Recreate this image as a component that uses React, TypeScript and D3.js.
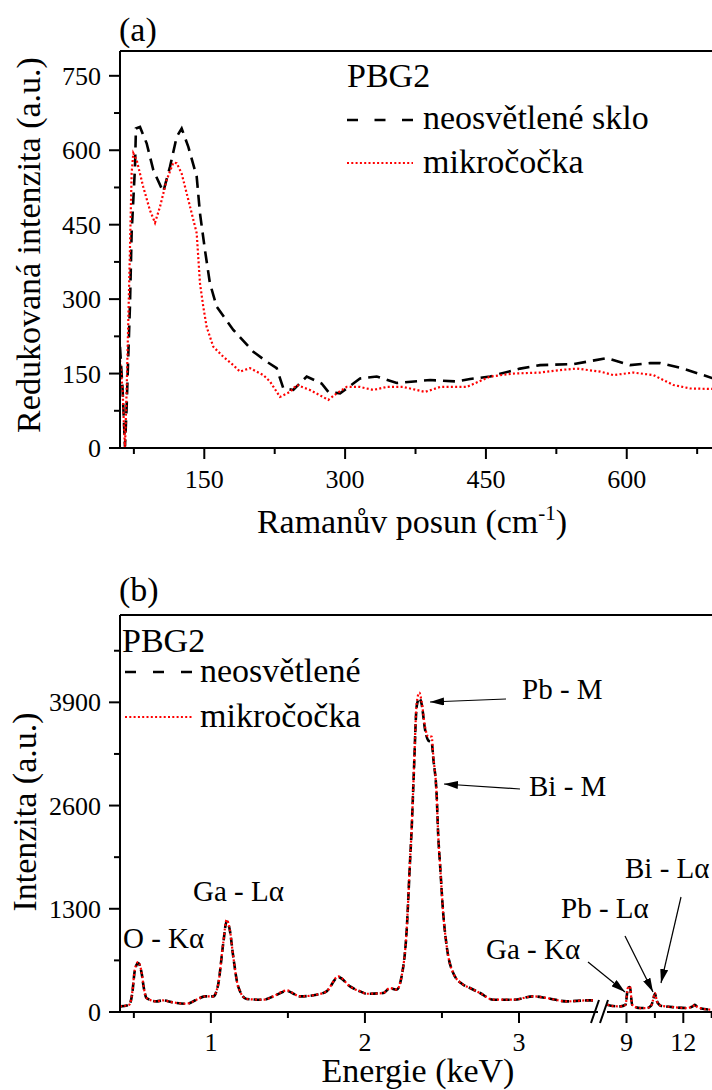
import React from 'react';
import * as d3 from 'd3';

// ---------- Panel (a): Raman ----------
const ramanShiftBlack = [60.2, 63, 65.5, 67.3, 69, 70.8, 72.6, 76.2, 77.2, 81.5, 88.6, 95.7, 106.3, 113.5, 120.6, 125.9, 133, 141.9, 145.4, 150.7, 156, 163.2, 180.9, 202.2, 216.5, 227.1, 234.2, 244.8, 259.1, 275, 282.1, 294.6, 308.7, 315.9, 333.7, 355, 390.5, 418.9, 433.1, 454.4, 486.4, 507.7, 543.1, 578.7, 603.5, 625, 635.7, 660.3, 690.8, 720];
const ramanUnexposed = [204, 117, 3, 83, 184, 285, 433, 567, 644, 647, 614, 560, 516, 567, 627, 644, 607, 547, 473, 399, 332, 285, 238, 194, 174, 161, 120, 117, 144, 130, 113, 110, 130, 140, 144, 131, 137, 134, 139, 144, 160, 167, 169, 181, 167, 171, 171, 160, 141, 134, 133];
const ramanShiftRed = [60.2, 63, 64.2, 65.5, 67.3, 69, 70.8, 72.6, 74.4, 78, 85, 92.1, 97.5, 102.8, 109.9, 117, 120.6, 125.9, 133, 141.9, 145.4, 148.9, 152.5, 159.6, 170.2, 180.9, 188, 198.7, 212.8, 220, 230.6, 241.3, 248.4, 262.5, 282.1, 291, 301.7, 315.9, 330, 344.3, 362, 385.1, 401.3, 429.5, 454.4, 479.2, 507.7, 529, 546.7, 571.6, 585.7, 607, 628.3, 649.6, 667.3, 690.8, 720];
const ramanLens = [177, 117, 56, 0, 117, 252, 399, 554, 594, 580, 526, 479, 454, 486, 540, 575, 574, 553, 500, 433, 332, 285, 244, 204, 184, 167, 154, 161, 147, 134, 103, 113, 127, 117, 97, 110, 123, 123, 117, 123, 123, 113, 123, 123, 144, 150, 152, 157, 160, 154, 147, 152, 147, 127, 120, 119, 119];
const ramanXTicks = [150, 300, 450, 600];
const ramanXMinor = [75, 225, 375, 525, 675];
const ramanYTicks = [0, 150, 300, 450, 600, 750];
const ramanYMinor = [75, 225, 375, 525, 675];

// ---------- Panel (b): EDS ----------
const edsEnergyLow = [0.41, 0.47, 0.49, 0.506, 0.528, 0.55, 0.565, 0.582, 0.647, 0.688, 0.753, 0.842, 0.907, 0.961, 1.015, 1.047, 1.08, 1.102, 1.123, 1.145, 1.177, 1.232, 1.34, 1.405, 1.492, 1.578, 1.686, 1.751, 1.827, 1.903, 1.968, 2.011, 2.119, 2.162, 2.206, 2.238, 2.271, 2.292, 2.303, 2.318, 2.336, 2.353, 2.368, 2.39, 2.411, 2.433, 2.444, 2.466, 2.476, 2.487, 2.508, 2.531, 2.573, 2.638, 2.682, 2.747, 2.833, 2.963, 3.093, 3.18, 3.31, 3.44, 3.494];
const edsLensLow = [71, 92, 250, 532, 630, 500, 300, 176, 134, 146, 121, 104, 155, 197, 197, 344, 868, 1162, 1036, 700, 322, 164, 155, 197, 272, 197, 218, 260, 448, 322, 260, 230, 239, 302, 281, 448, 1036, 1879, 2297, 3050, 3889, 4022, 3909, 3594, 3468, 3468, 3217, 2714, 2210, 1879, 1246, 826, 491, 344, 302, 239, 155, 155, 197, 176, 134, 146, 146];
const edsUnexposedLow = [71, 92, 240, 520, 615, 495, 300, 176, 134, 146, 121, 104, 155, 197, 197, 344, 860, 1140, 1030, 700, 322, 164, 155, 197, 265, 197, 218, 260, 440, 322, 260, 230, 239, 300, 281, 448, 1030, 1870, 2290, 3040, 3850, 3950, 3880, 3560, 3420, 3400, 3190, 2714, 2210, 1879, 1246, 826, 491, 344, 302, 239, 155, 155, 197, 176, 134, 146, 146];
const edsEnergyHigh = [7.99, 8.3, 8.69, 8.95, 9.07, 9.18, 9.3, 9.5, 9.73, 10.08, 10.3, 10.4, 10.5, 10.61, 10.8, 11.04, 11.5, 12.18, 12.5, 12.61, 12.75, 12.87, 13.5, 14.5];
const edsLensHigh = [92, 75, 71, 92, 302, 322, 92, 60, 50, 50, 80, 150, 239, 134, 80, 71, 60, 50, 70, 92, 60, 50, 29, 25];
const edsUnexposedHigh = [92, 75, 71, 92, 295, 315, 92, 60, 50, 50, 80, 145, 230, 134, 80, 71, 60, 50, 70, 90, 60, 50, 29, 25];
const edsXTicksLow = [1, 2, 3];
const edsXMinorLow = [0.5, 1.5, 2.5];
const edsXTicksHigh = [9, 12];
const edsXMinorHigh = [10.5, 13.5];
const edsYTicks = [0, 1300, 2600, 3900];
const edsYMinor = [650, 1950, 3250, 4550];

const FF = 'Times New Roman, Liberation Serif, Tinos, serif';

export default function App() {
  // Panel (a) geometry
  const aL = 120, aT = 51, aB = 448, aR = 740;
  const xA = d3.scaleLinear().domain([60, 720]).range([119.8, 739.4]);
  const yA = d3.scaleLinear().domain([0, 800]).range([aB, aT]);
  const lineA = (xs: number[], ys: number[]) =>
    d3.line<number>().x((_, i) => xA(xs[i])).y((d) => yA(d)).curve(d3.curveLinear)(ys) || '';

  // Panel (b) geometry
  const bL = 120, bT = 615, bB = 1012;
  const xB1 = d3.scaleLinear().domain([0.41, 3.5]).range([120, 596]);
  const xB2 = d3.scaleLinear().domain([7.97, 15]).range([607, 740.1]);
  const yB = d3.scaleLinear().domain([0, 5000]).range([bB, bT]);
  const lineB = (sx: d3.ScaleLinear<number, number>, xs: number[], ys: number[]) =>
    d3.line<number>().x((_, i) => sx(xs[i])).y((d) => yB(d)).curve(d3.curveMonotoneX)(ys) || '';

  const ax = { stroke: '#000', strokeWidth: 2 };
  const redDot = { fill: 'none', stroke: '#ff0000', strokeWidth: 2.2, strokeDasharray: '2,2.3' };
  const T26 = { fontFamily: FF, fontSize: 26 };
  const T34 = { fontFamily: FF, fontSize: 34 };
  const T29 = { fontFamily: FF, fontSize: 29 };

  return (
    <svg width={712} height={1090} fontFamily={FF} style={{ position: 'absolute', left: 0, top: 0 }}>
      <defs>
        <clipPath id="clipA"><rect x={aL} y={aT} width={aR - aL} height={aB - aT} /></clipPath>
        <clipPath id="clipB1"><rect x={bL} y={bT} width={596 - bL} height={bB - bT} /></clipPath>
        <clipPath id="clipB2"><rect x={607} y={bT} width={140} height={bB - bT} /></clipPath>
        <marker id="arrow" viewBox="0 0 14 8" refX={14} refY={4} markerWidth={14} markerHeight={8} markerUnits="userSpaceOnUse" orient="auto">
          <path d="M0,0 L14,4 L0,8 Z" fill="#000" />
        </marker>
      </defs>
      <rect x={0} y={0} width={712} height={1090} fill="#fff" />

      {/* ===== Panel (a) ===== */}
      <text x={119} y={41} {...T34}>(a)</text>
      <g clipPath="url(#clipA)">
        <path d={lineA(ramanShiftBlack, ramanUnexposed)} fill="none" stroke="#000" strokeWidth={2.6} strokeDasharray="12,7" />
        <path d={lineA(ramanShiftRed, ramanLens)} {...redDot} />
      </g>
      <line x1={aL} y1={aT} x2={aR} y2={aT} {...ax} />
      <line x1={aL} y1={aT} x2={aL} y2={aB + 1} {...ax} />
      <line x1={aL - 1} y1={aB} x2={aR} y2={aB} {...ax} />
      {ramanYTicks.map((t) => (
        <g key={'ya' + t}>
          <line x1={aL - 11} x2={aL} y1={yA(t)} y2={yA(t)} {...ax} />
          <text x={101} y={yA(t) + 9} textAnchor="end" {...T26}>{String(t)}</text>
        </g>
      ))}
      {ramanYMinor.map((t) => (
        <line key={'yam' + t} x1={aL - 6} x2={aL} y1={yA(t)} y2={yA(t)} {...ax} />
      ))}
      {ramanXTicks.map((t) => (
        <g key={'xa' + t}>
          <line x1={xA(t)} x2={xA(t)} y1={aB} y2={aB + 11} {...ax} />
          <text x={xA(t)} y={aB + 40} textAnchor="middle" {...T26}>{String(t)}</text>
        </g>
      ))}
      {ramanXMinor.map((t) => (
        <line key={'xam' + t} x1={xA(t)} x2={xA(t)} y1={aB} y2={aB + 6} {...ax} />
      ))}
      <text x={412} y={533} textAnchor="middle" {...T34}>
        Ramanův posun (cm<tspan dy={-13} fontSize={21}>-1</tspan><tspan dy={13}>)</tspan>
      </text>
      <text transform="translate(40,245) rotate(-90)" textAnchor="middle" {...T34}>Redukovaná intenzita (a.u.)</text>

      {/* legend (a) */}
      <text x={347} y={87} {...T34}>PBG2</text>
      <line x1={347} x2={413} y1={120} y2={120} stroke="#000" strokeWidth={2.6} strokeDasharray="11,16.5" />
      <text x={423} y={129} {...T34}>neosvětlené sklo</text>
      <line x1={347} x2={413} y1={163} y2={163} stroke="#ff0000" strokeWidth={2.2} strokeDasharray="2,2.3" />
      <text x={423} y={173} {...T34}>mikročočka</text>

      {/* ===== Panel (b) ===== */}
      <text x={119} y={601} {...T34}>(b)</text>
      <g clipPath="url(#clipB1)">
        <path d={lineB(xB1, edsEnergyLow, edsUnexposedLow)} fill="none" stroke="#000" strokeWidth={2.6} strokeDasharray="8,4" />
        <path d={lineB(xB1, edsEnergyLow, edsLensLow)} {...redDot} />
      </g>
      <g clipPath="url(#clipB2)">
        <path d={lineB(xB2, edsEnergyHigh, edsUnexposedHigh)} fill="none" stroke="#000" strokeWidth={2.6} strokeDasharray="8,4" />
        <path d={lineB(xB2, edsEnergyHigh, edsLensHigh)} {...redDot} />
      </g>
      <line x1={bL} y1={bT} x2={740} y2={bT} {...ax} />
      <line x1={bL} y1={bT} x2={bL} y2={bB + 1} {...ax} />
      <line x1={bL - 1} y1={bB} x2={598} y2={bB} {...ax} />
      <line x1={607} y1={bB} x2={740} y2={bB} {...ax} />
      <line x1={591} y1={1023} x2={599} y2={1000} stroke="#000" strokeWidth={2} />
      <line x1={600} y1={1023} x2={608} y2={1000} stroke="#000" strokeWidth={2} />
      {edsYTicks.map((t) => (
        <g key={'yb' + t}>
          <line x1={bL - 11} x2={bL} y1={yB(t)} y2={yB(t)} {...ax} />
          <text x={101} y={yB(t) + 9} textAnchor="end" {...T26}>{String(t)}</text>
        </g>
      ))}
      {edsYMinor.map((t) => (
        <line key={'ybm' + t} x1={bL - 6} x2={bL} y1={yB(t)} y2={yB(t)} {...ax} />
      ))}
      {edsXTicksLow.map((t) => (
        <g key={'xb1' + t}>
          <line x1={xB1(t)} x2={xB1(t)} y1={bB} y2={bB + 11} {...ax} />
          <text x={xB1(t)} y={bB + 39} textAnchor="middle" {...T26}>{String(t)}</text>
        </g>
      ))}
      {edsXMinorLow.map((t) => (
        <line key={'xb1m' + t} x1={xB1(t)} x2={xB1(t)} y1={bB} y2={bB + 6} {...ax} />
      ))}
      {edsXTicksHigh.map((t) => (
        <g key={'xb2' + t}>
          <line x1={xB2(t)} x2={xB2(t)} y1={bB} y2={bB + 11} {...ax} />
          <text x={xB2(t)} y={bB + 39} textAnchor="middle" {...T26}>{String(t)}</text>
        </g>
      ))}
      {edsXMinorHigh.map((t) => (
        <line key={'xb2m' + t} x1={xB2(t)} x2={xB2(t)} y1={bB} y2={bB + 6} {...ax} />
      ))}
      <text x={418} y={1082} textAnchor="middle" {...T34}>Energie (keV)</text>
      <text transform="translate(36,812) rotate(-90)" textAnchor="middle" {...T34}>Intenzita (a.u.)</text>

      {/* legend (b) */}
      <text x={122} y={652} {...T34}>PBG2</text>
      <line x1={125} x2={192} y1={672} y2={672} stroke="#000" strokeWidth={2.6} strokeDasharray="11,17" />
      <text x={200} y={682} {...T34}>neosvětlené</text>
      <line x1={125} x2={192} y1={717} y2={717} stroke="#ff0000" strokeWidth={2.2} strokeDasharray="2,2.3" />
      <text x={200} y={727} {...T34}>mikročočka</text>

      {/* annotations */}
      <text x={123} y={948} {...T29}>O - Kα</text>
      <text x={193} y={901} {...T29}>Ga - Lα</text>
      <text x={522} y={699} {...T29}>Pb - M</text>
      <line x1={506} y1={699} x2={430} y2={702} stroke="#000" strokeWidth={1.2} markerEnd="url(#arrow)" />
      <text x={529} y={796} {...T29}>Bi - M</text>
      <line x1={520} y1={789} x2={444} y2={784} stroke="#000" strokeWidth={1.2} markerEnd="url(#arrow)" />
      <text x={486} y={959} {...T29}>Ga - Kα</text>
      <line x1={588} y1={962} x2={625} y2={992} stroke="#000" strokeWidth={1.2} markerEnd="url(#arrow)" />
      <text x={561} y={918} {...T29}>Pb - Lα</text>
      <line x1={625} y1={936} x2={653} y2={992} stroke="#000" strokeWidth={1.2} markerEnd="url(#arrow)" />
      <text x={625} y={878} {...T29}>Bi - Lα</text>
      <line x1={681} y1={897} x2={661} y2={983} stroke="#000" strokeWidth={1.2} markerEnd="url(#arrow)" />
    </svg>
  );
}
